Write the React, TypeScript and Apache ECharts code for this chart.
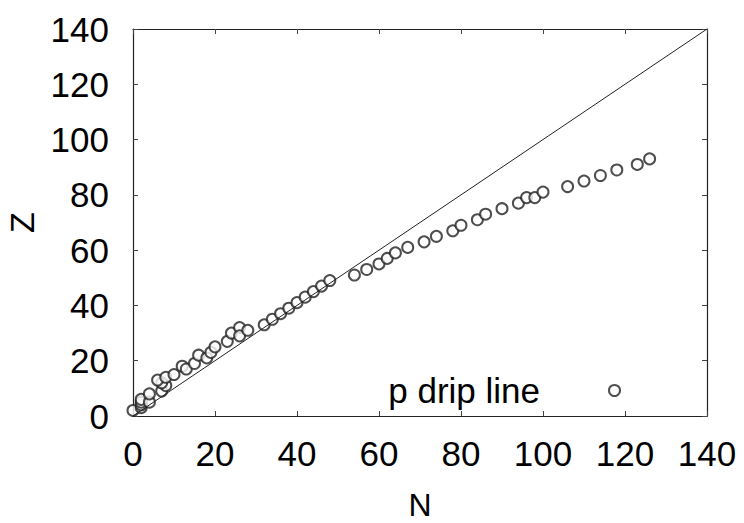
import React, { useEffect, useRef } from "react";
import * as echarts from "echarts";

const dripN = [0, 2, 2, 2, 2, 4, 4, 7, 8, 7, 6, 8, 10, 12, 13, 15, 16, 18, 19, 20, 23, 24, 26, 26, 28, 32, 34, 36, 38, 40, 42, 44, 46, 48, 54, 57, 60, 62, 64, 67, 71, 74, 78, 80, 84, 86, 90, 94, 96, 98, 100, 106, 110, 114, 118, 123, 126];
const dripZ = [2, 3, 4, 5, 6, 5, 8, 9, 11, 12, 13, 14, 15, 18, 17, 19, 22, 21, 23, 25, 27, 30, 32, 29, 31, 33, 35, 37, 39, 41, 43, 45, 47, 49, 51, 53, 55, 57, 59, 61, 63, 65, 67, 69, 71, 73, 75, 77, 79, 79, 81, 83, 85, 87, 89, 91, 93];
const diagonal = [[0, 0], [140, 140]];
const seriesName = "p drip line";

export default function App() {
  const ref = useRef<HTMLDivElement>(null);
  useEffect(() => {
    document.body.style.margin = "0";
    const chart = echarts.init(ref.current!, null, { renderer: "svg" });
    const font = "Liberation Sans, Arial, sans-serif";
    const axisCommon = {
      type: "value",
      min: 0,
      max: 140,
      interval: 20,
      splitLine: { show: false },
      axisLine: { show: true, onZero: false, lineStyle: { color: "#222", width: 1.2 } },
      axisTick: { show: true, inside: true, length: 5, lineStyle: { color: "#444", width: 1 } },
    };
    chart.setOption({
      animation: false,
      backgroundColor: "#fff",
      grid: { left: 133, right: 37, top: 29, bottom: 107, containLabel: false, outerBoundsMode: "none" },
      xAxis: [
        {
          ...axisCommon,
          position: "bottom",
          name: "N",
          nameLocation: "middle",
          nameGap: 74,
          nameTextStyle: { fontSize: 32, lineHeight: 30, color: "#000", fontFamily: font },
          axisLabel: { fontSize: 35, color: "#000", fontFamily: font, margin: 20 },
        },
        { ...axisCommon, position: "top", axisLabel: { show: false } },
      ],
      yAxis: [
        {
          ...axisCommon,
          position: "left",
          name: "Z",
          nameLocation: "middle",
          nameGap: 94,
          nameRotate: 90,
          nameTextStyle: { fontSize: 34, color: "#000", fontFamily: font },
          axisLabel: { fontSize: 35, color: "#000", fontFamily: font, margin: 24 },
        },
        { ...axisCommon, position: "right", axisLabel: { show: false } },
      ],
      legend: {
        data: [{ name: seriesName, icon: "emptyCircle" }],
        right: 118,
        bottom: 110,
        align: "right",
        itemWidth: 11,
        itemHeight: 11,
        textStyle: { fontSize: 35, color: "#000", fontFamily: font, padding: [0, 64, 0, 0] },
      },
      series: [
        {
          type: "line",
          data: diagonal,
          symbol: "none",
          lineStyle: { color: "#222", width: 1 },
          silent: true,
        },
        {
          name: seriesName,
          type: "scatter",
          data: dripN.map((n, i) => [n, dripZ[i]]),
          symbol: "emptyCircle",
          symbolSize: 11,
          itemStyle: { color: "#222", borderWidth: 0.9 },
        },
      ],
    });
    return () => chart.dispose();
  }, []);
  return <div ref={ref} style={{ width: 744, height: 523 }} />;
}
